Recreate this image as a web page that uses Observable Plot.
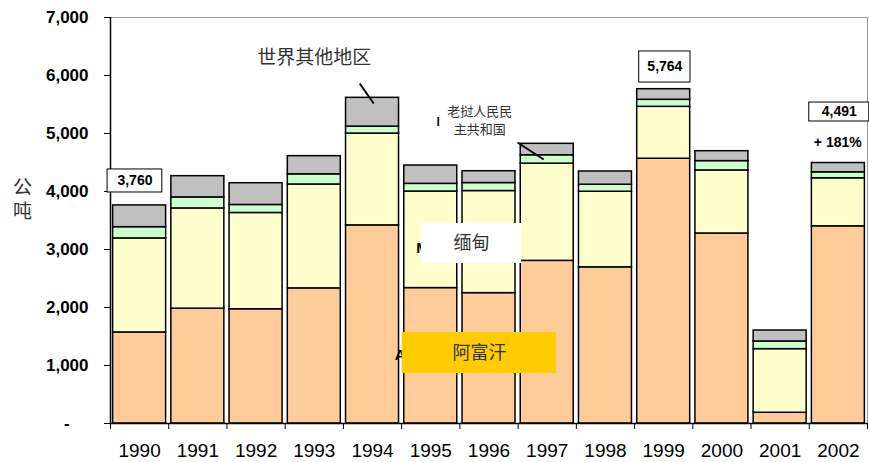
<!DOCTYPE html>
<html><head><meta charset="utf-8">
<script src="https://cdn.jsdelivr.net/npm/d3@7"></script>
<script src="https://cdn.jsdelivr.net/npm/@observablehq/plot@0.6"></script>
<style>
body{margin:0;background:#fff;}
#chart{position:relative;width:869px;height:462px;}
#ylabel{position:absolute;left:13px;top:177px;z-index:2;font-family:"Noto Sans CJK SC";font-size:19px;line-height:19px;letter-spacing:5px;color:#333;writing-mode:vertical-rl;text-orientation:upright;}
</style></head><body><div id="chart"><div id="ylabel">公吨</div></div>
<script>
// ---- data ----
const years = [1990,1991,1992,1993,1994,1995,1996,1997,1998,1999,2000,2001,2002];
const afghanistan = [1570,1980,1970,2330,3416,2335,2248,2804,2693,4565,3276,185,3400];
const myanmar     = [1621,1728,1660,1791,1583,1664,1760,1676,1303,895,1087,1097,828];
const laos        = [194,190,138,175,120,133,138,145,121,121,161,132,103];
const other       = [375,366,375,313,496,316,204,197,228,183,171,189,160];
const seriesNames = ["阿富汗","缅甸","老挝人民民主共和国","世界其他地区"];
const yTicks = [0,1000,2000,3000,4000,5000,6000,7000];

// annotations (data units)
const totalBoxes = [
  {x1:1989.45,x2:1990.39,y1:3983,y2:4380,text:"3,760"},
  {x1:1998.58,x2:1999.46,y1:5879,y2:6414,text:"5,764"},
  {x1:2001.50,x2:2002.53,y1:5207,y2:5534,text:"4,491"}
];
const growthNote = [{x:2001.99,y:4836,text:"+ 181%"}];
const seriesLabels = [
  {x:1993.0,y:6345,text:"世界其他地区",size:19},
  {x:1995.84,y:5241,text:"老挝人民民\n主共和国",size:13}
];
const leaderLines = [
  {x1:1993.78,y1:5862,x2:1994.02,y2:5517},
  {x1:1996.49,y1:4845,x2:1996.94,y2:4552}
];
const labelBoxes = [
  {x1:1994.84,x2:1996.56,y1:2759,y2:3448,text:"缅甸",fill:"white"},
  {x1:1994.51,x2:1997.16,y1:862,y2:1569,text:"阿富汗",fill:"#FFCC00"}
];
const strayLetters = [
  {x:1995.10,y:5190,text:"l",size:12},
  {x:1994.75,y:3017,text:"M",size:15},
  {x:1994.38,y:1172,text:"A",size:15}
];

// ---- build stacked segments ----
const seriesValues = [afghanistan, myanmar, laos, other];
const segs = [];
years.forEach((yr, i) => {
  let base = 0;
  seriesValues.forEach((vals, s) => {
    segs.push({year: yr, series: seriesNames[s], y1: base, y2: base + vals[i]});
    base += vals[i];
  });
});
const half = 0.455;
const boundaries = [...years.map(y => y - 0.5), years[years.length-1] + 0.5];
const fmtY = d => d === 0 ? "-\u00a0\u00a0\u00a0\u00a0" : d3.format(",")(d);
const cjk = "Noto Sans CJK SC";

const chart = Plot.plot({
  width: 869, height: 462,
  marginLeft: 110, marginRight: 2, marginTop: 17, marginBottom: 39,
  style: {fontFamily: "Liberation Sans, Arial, sans-serif", background: "white", color: "black"},
  x: {type: "linear", domain: [1989.5, 2002.5], label: null},
  y: {domain: [0, 7000], label: null},
  color: {domain: seriesNames, range: ["#FFCC99","#FFFFCC","#CCFFCC","#C0C0C0"]},
  marks: [
    Plot.frame({stroke: "#9a9a9a"}),
    Plot.rect(segs, {x1: d => d.year - half, x2: d => d.year + half, y1: "y1", y2: "y2", fill: "series", stroke: "black", strokeWidth: 1.5}),
    Plot.ruleX([1989.5], {stroke: "black", strokeWidth: 1.5}),
    Plot.ruleY([0], {stroke: "black", strokeWidth: 1.5}),
    Plot.axisY({ticks: yTicks, tickSize: 6, tickPadding: 16, tickFormat: fmtY, fontSize: 17, fontWeight: "bold"}),
    Plot.axisX({ticks: boundaries, tickSize: 6, tickFormat: () => ""}),
    Plot.axisX({ticks: years, tickSize: 0, tickPadding: 20, tickFormat: d => String(d), fontSize: 19, fontWeight: "normal"}),
    // series labels & leaders
    Plot.text(seriesLabels, {x: "x", y: "y", text: "text", fontSize: d => d.size, fontFamily: cjk, fill: "#333", lineHeight: 1.38}),
    Plot.link(leaderLines, {x1: "x1", y1: "y1", x2: "x2", y2: "y2", stroke: "black", strokeWidth: 2}),
    Plot.text(strayLetters, {x: "x", y: "y", text: "text", fontSize: d => d.size, fontWeight: "bold", textAnchor: "start"}),
    Plot.rect(labelBoxes, {x1: "x1", x2: "x2", y1: "y1", y2: "y2", fill: "fill"}),
    Plot.text(labelBoxes, {x: d => (d.x1 + d.x2) / 2, y: d => (d.y1 + d.y2) / 2, text: "text", fontSize: 18, fontFamily: cjk, fill: "#333"}),
    // totals
    Plot.rect(totalBoxes, {x1: "x1", x2: "x2", y1: "y1", y2: "y2", fill: "white", stroke: "black", strokeWidth: 1}),
    Plot.text(totalBoxes, {x: d => (d.x1 + d.x2) / 2, y: d => (d.y1 + d.y2) / 2, text: "text", fontSize: 14, fontWeight: "bold"}),
    Plot.text(growthNote, {x: "x", y: "y", text: "text", fontSize: 14, fontWeight: "bold"})
  ]
});
document.getElementById("chart").appendChild(chart);
chart.style.position = "absolute"; chart.style.left = "0"; chart.style.top = "0";
</script>
</body></html>
